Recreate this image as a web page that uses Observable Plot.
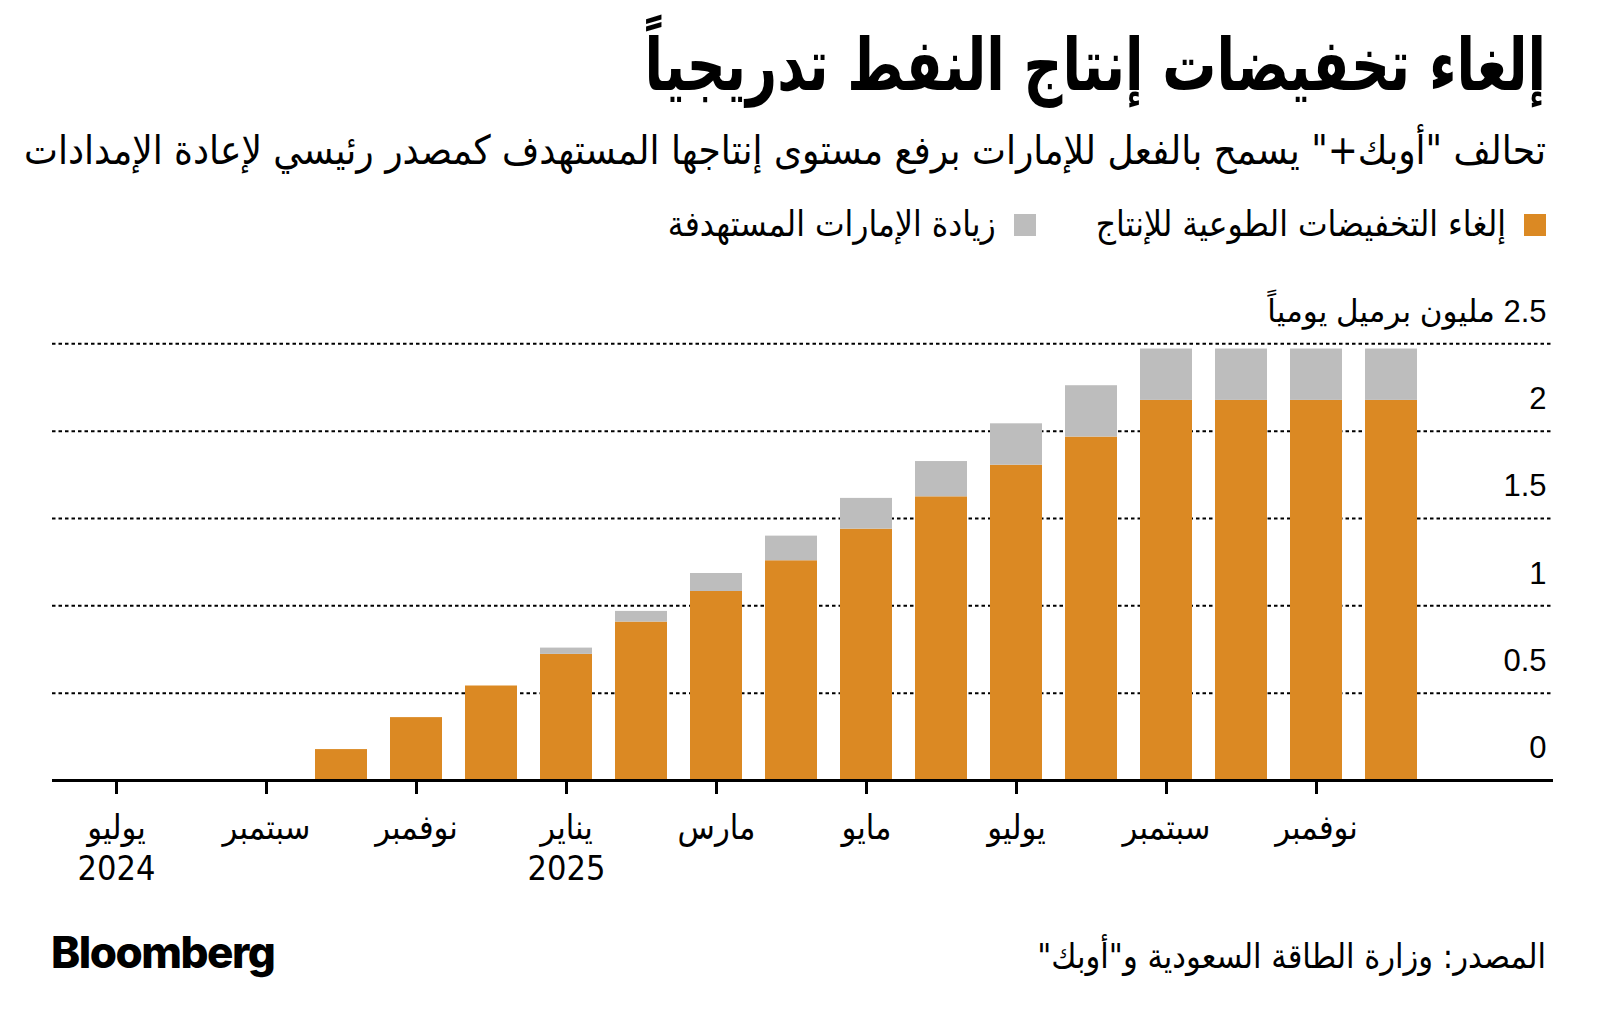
<!DOCTYPE html>
<html lang="ar">
<head>
<meta charset="utf-8">
<script src="https://cdn.jsdelivr.net/npm/d3@7"></script>
<script src="https://cdn.jsdelivr.net/npm/@observablehq/plot@0.6"></script>
<style>
  html, body { margin: 0; padding: 0; background: #fff; }
  body { width: 1600px; height: 1031px; position: relative; overflow: hidden; color: #000; }
  .ar { font-family: "DejaVu Sans Condensed", "DejaVu Sans", sans-serif; direction: rtl; white-space: nowrap; position: absolute; }
  #title { right: 54px; top: 39px; font-size: 60px; font-weight: bold; line-height: 1; transform: scaleY(1.2); transform-origin: 50% 50.8px; }
  #subtitle { right: 54px; top: 130px; font-size: 40px; line-height: 1; }
  #legend { right: 54px; top: 207px; font-size: 35px; line-height: 1; display: flex; align-items: center; }
  .sw { display: inline-block; width: 22px; height: 22px; margin-left: 18px; }
  .item { display: flex; align-items: center; margin-left: 60px; }
  #chart { position: absolute; left: 0; top: 270px; }
  #logo { position: absolute; left: 51px; top: 930px; font-family: Inter, "Liberation Sans", sans-serif; font-weight: 800; font-size: 44px; letter-spacing: -1.5px; line-height: 1; }
  #source { right: 54px; top: 939px; font-size: 34px; line-height: 1; }
</style>
</head>
<body>
<div id="title" class="ar">إلغاء تخفيضات إنتاج النفط تدريجياً</div>
<div id="subtitle" class="ar">تحالف "أوبك+" يسمح بالفعل للإمارات برفع مستوى إنتاجها المستهدف كمصدر رئيسي لإعادة الإمدادات</div>
<div id="legend" class="ar"></div>
<div id="chart"></div>
<div id="logo">Bloomberg</div>
<div id="source" class="ar">المصدر: وزارة الطاقة السعودية و"أوبك"</div>
<script>
// ---- data ----
const months = ["2024-07","2024-08","2024-09","2024-10","2024-11","2024-12",
                "2025-01","2025-02","2025-03","2025-04","2025-05","2025-06",
                "2025-07","2025-08","2025-09","2025-10","2025-11","2025-12"];
const cutsUnwind = [0, 0, 0, 0.177, 0.36, 0.541, 0.722, 0.907, 1.082, 1.258, 1.439, 1.624,
                    1.805, 1.966, 2.176, 2.176, 2.176, 2.176];
const uaeIncrease = [0, 0, 0, 0, 0, 0, 0.036, 0.061, 0.103, 0.141, 0.176, 0.202,
                     0.237, 0.294, 0.294, 0.294, 0.294, 0.294];
const seriesNames = ["إلغاء التخفيضات الطوعية للإنتاج", "زيادة الإمارات المستهدفة"];
const seriesColors = ["#DB8923", "#BDBDBD"];
const tickMonths = ["2024-07","2024-09","2024-11","2025-01","2025-03","2025-05","2025-07","2025-09","2025-11"];
const tickLabels = ["يوليو\n2024","سبتمبر","نوفمبر","يناير\n2025","مارس","مايو","يوليو","سبتمبر","نوفمبر"];
const yTicks = [0, 0.5, 1, 1.5, 2, 2.5];
const yTickLabels = ["0", "0.5", "1", "1.5", "2", "2.5 مليون برميل يومياً"];

// ---- legend ----
const legend = document.getElementById("legend");
seriesNames.forEach((name, i) => {
  const item = document.createElement("div");
  item.className = "item";
  item.innerHTML = `<span class="sw" style="background:${seriesColors[i]}"></span><span>${name}</span>`;
  legend.appendChild(item);
});

// ---- table ----
const rows = months.flatMap((m, i) => [
  {month: m, series: seriesNames[0], value: cutsUnwind[i]},
  {month: m, series: seriesNames[1], value: uaeIncrease[i]}
]);

const W = 1600, H = 620;
const chart = Plot.plot({
  width: W, height: H,
  marginTop: 73.3, marginBottom: 110, marginLeft: 52, marginRight: 47,
  style: {fontFamily: "'Liberation Sans', 'DejaVu Sans', sans-serif", background: "transparent", color: "#000"},
  x: {type: "band", domain: months, range: [78.2, 1428.2], paddingInner: 0.312, paddingOuter: 0.156, label: null},
  y: {domain: [0, 2.5], label: null},
  color: {domain: seriesNames, range: seriesColors},
  marks: [
    Plot.ruleY(yTicks.slice(1), {stroke: "#000", strokeWidth: 2, strokeDasharray: "3.5,3"}),
    Plot.barY(rows, {x: "month", y: "value", fill: "series", order: seriesNames}),
    Plot.ruleY([0], {stroke: "#000", strokeWidth: 3}),
    Plot.axisX(tickMonths, {
      label: null,
      tickSize: 14, strokeWidth: 3, tickPadding: 15, fontSize: 34, lineHeight: 1.22,
      fontFamily: "'DejaVu Sans Condensed', 'DejaVu Sans', sans-serif",
      tickFormat: d => tickLabels[tickMonths.indexOf(d)]
    }),
    Plot.axisY(yTicks, {
      label: null,
      anchor: "right", tickSize: 0, tickPadding: 0, textAnchor: "end", dx: -7, dy: -32,
      fontSize: 31,
      tickFormat: d => "\u202B" + yTickLabels[yTicks.indexOf(d)] + "\u202C"
    })
  ]
});
document.getElementById("chart").appendChild(chart);
</script>
</body>
</html>
